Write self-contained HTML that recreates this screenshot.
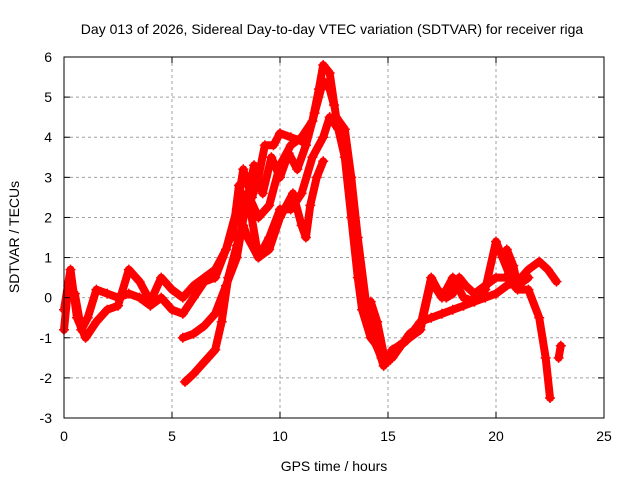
<!DOCTYPE html>
<html><head><meta charset="utf-8"><style>
body{margin:0;background:#fff;}
svg{display:block;font-family:"Liberation Sans",sans-serif;}
</style></head><body>
<svg id="chart" width="640" height="480" viewBox="0 0 640 480">
<rect width="640" height="480" fill="#fff"/>
<text x="332" y="34" font-size="14" text-anchor="middle">Day 013 of 2026, Sidereal Day-to-day VTEC variation (SDTVAR) for receiver riga</text>
<g id="grid"></g>
<g id="series"></g>
<rect x="64" y="57" width="540" height="361" fill="none" stroke="#000" stroke-width="1"/>
<g id="ticks"></g>
<text x="334" y="471" font-size="14" text-anchor="middle">GPS time / hours</text>
<text transform="translate(19,237) rotate(-90)" font-size="14" text-anchor="middle">SDTVAR / TECUs</text>
</svg>
<script>
const xTicks=[0,5,10,15,20,25];
const yTicks=[-3,-2,-1,0,1,2,3,4,5,6];
const arcA=[[0,-0.8],[0.2,0.3],[0.5,0.1],[0.8,-0.8],[1.1,-0.5],[1.5,0.2],[2,0.1],[2.5,0],[3,0.1],[3.5,0],[4,-0.2],[4.5,0],[5,-0.3],[5.5,-0.4],[6,0],[6.5,0.4],[7,0.5],[7.5,1.2],[8,2.2],[8.3,3.2],[8.7,2.5],[9,3.0],[9.3,3.8],[9.7,3.8],[10,4.1],[10.5,4.0],[11,3.9]];
const arcB=[[0,-0.3],[0.3,0.7],[0.6,-0.5],[1,-1.0],[1.5,-0.6],[2,-0.3],[2.5,-0.2],[3,0.7],[3.5,0.4],[4,-0.1],[4.5,0.5],[5,0.2],[5.5,0],[6,0.3],[6.5,0.5],[7,0.7],[7.5,1.2],[8,2.0],[8.5,2.6],[9,2.0],[9.5,2.3],[10,3.3],[10.5,3.8],[11,4.0],[11.5,4.4],[11.8,5.2],[12,5.8],[12.3,5.6],[12.6,4.5],[13,4.2],[13.3,3.0],[13.6,1.5],[14,-0.2],[14.3,-1.0],[14.7,-1.5],[15,-1.6],[15.5,-1.2],[16,-1.0],[16.5,-0.8],[17,0.4],[17.5,0],[18,0.5],[18.5,0],[19,-0.1],[19.5,0.2],[20,1.4],[20.3,1.0],[20.6,0.6],[21,0.5]];
const arcC=[[5.5,-1.0],[6,-0.9],[6.5,-0.7],[7,-0.4],[7.5,0.3],[8,1.0],[8.5,2.6],[9,1.0],[9.5,1.5],[10,2.2],[10.5,2.2],[11,2.6],[11.5,3.5],[12,4.0],[12.3,4.5],[12.7,4.2],[13,3.5],[13.3,2.0],[13.6,0.5],[13.8,-0.3],[14.2,-1.0],[14.5,-1.2],[14.8,-1.7],[15.2,-1.3],[15.8,-1.1],[16.5,-0.6],[17,-0.5],[17.5,-0.4],[18,-0.3],[18.5,-0.2],[19,-0.1],[19.5,0],[20,0.1],[20.5,0.3],[21,0.4],[21.5,0.7],[22,0.9],[22.4,0.7],[22.8,0.4]];
const arcD=[[5.6,-2.1],[6,-1.9],[6.5,-1.6],[7,-1.3],[7.3,-0.6],[7.6,0.5],[8,1.3],[8.3,1.8],[8.5,1.5],[9,1.0],[9.5,1.2],[10,2.0],[10.6,2.6],[11,1.8],[11.2,1.5],[11.4,2.3],[11.7,3.0],[12,3.4]];
const arcE=[[13.8,0],[14,-0.5],[14.2,-0.1],[14.5,-0.6],[14.8,-1.4],[15.2,-1.5],[15.6,-1.2],[16,-0.9],[16.5,-0.7],[17,0.5],[17.3,0.2],[17.7,0],[18,0.1],[18.3,0.5],[18.6,0.3],[19,0.1],[19.5,0.3],[20,0.5],[20.5,0.5],[21,0.2],[21.5,0.2],[22,-0.5],[22.3,-1.5],[22.5,-2.5]];
const arcF=[[22.9,-1.5],[23,-1.2]];
const arcG=[[20.5,1.2],[20.8,0.8],[21,0.3],[21.5,0.5]];
const arcH=[[7.8,1.5],[8.1,2.8],[8.4,2.2],[8.8,3.3],[9.2,2.6],[9.6,3.5],[10,3.0],[10.4,3.6],[10.8,3.2],[11.2,3.8],[11.6,4.6],[12,5.4],[12.3,5.2],[12.5,4.8]];
const arcs=[arcA,arcB,arcC,arcD,arcE,arcF,arcG,arcH];

const NS="http://www.w3.org/2000/svg";
const X=t=>64+540*(t-0)/25;
const Y=v=>418-361*(v+3)/9;
const grid=document.getElementById('grid'),ticks=document.getElementById('ticks'),ser=document.getElementById('series');
function mk(tag,a,p){const e=document.createElementNS(NS,tag);for(const k in a)e.setAttribute(k,a[k]);p.appendChild(e);return e;}
xTicks.forEach(t=>{
  const x=X(t);
  if(t>0&&t<25){const g=mk('line',{x1:x,x2:x,y1:57,y2:418,stroke:'#a0a0a0','stroke-dasharray':'3,3'},grid);
  
  }
  mk('line',{x1:x,x2:x,y1:418,y2:412,stroke:'#000'},ticks);
  mk('line',{x1:x,x2:x,y1:57,y2:63,stroke:'#000'},ticks);
  const l=mk('text',{x:x,y:441,'font-size':14,'text-anchor':'middle'},ticks);l.textContent=t;
  
  
});
yTicks.forEach(v=>{
  const y=Y(v);
  if(v>-3&&v<6){const g=mk('line',{x1:64,x2:604,y1:y,y2:y,stroke:'#a0a0a0','stroke-dasharray':'3,3'},grid);
  
  }
  mk('line',{x1:64,x2:70,y1:y,y2:y,stroke:'#000'},ticks);
  mk('line',{x1:604,x2:598,y1:y,y2:y,stroke:'#000'},ticks);
  const l=mk('text',{x:52,y:y+5,'font-size':14,'text-anchor':'end'},ticks);l.textContent=v;
  
  
});
arcs.forEach((arc,i)=>{
  const pl=mk('polyline',{points:arc.map(p=>X(p[0])+','+Y(p[1])).join(' '),fill:'none',stroke:'#ff0000','stroke-width':8,'stroke-linejoin':'round','stroke-linecap':'round'},ser);
  
  
  arc.forEach(p=>{
    const x=X(p[0]),y=Y(p[1]);
    const m=mk('path',{d:`M${x-5},${y}H${x+5}M${x},${y-5}V${y+5}`,stroke:'#ff0000','stroke-width':1.5},ser);
    
    
  });
});
</script>
</body></html>
